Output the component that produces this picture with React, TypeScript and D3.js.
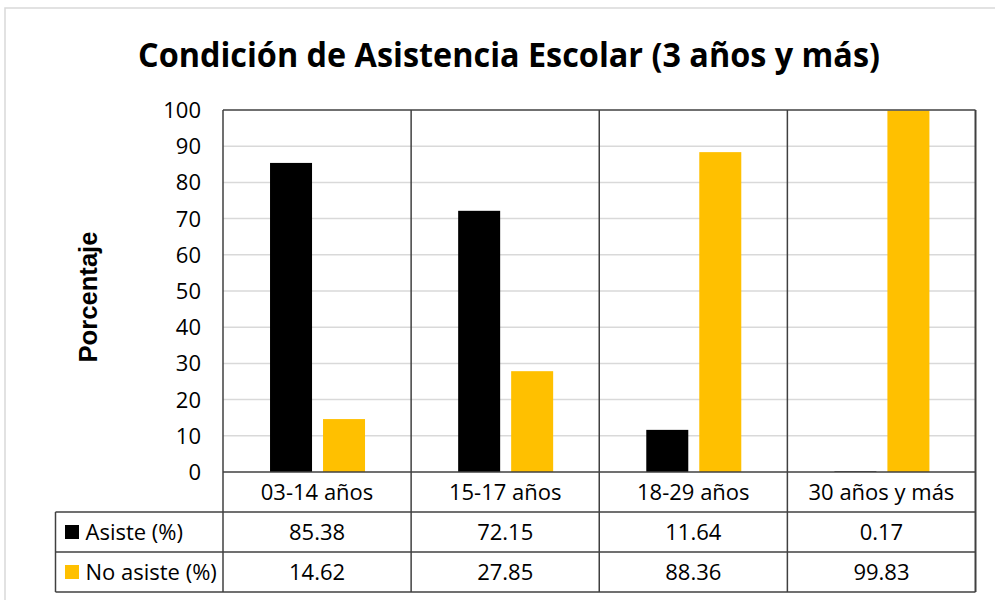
import React from "react";
import * as d3 from "d3";

const categories = ["03-14 años", "15-17 años", "18-29 años", "30 años y más"];
const seriesNames = ["Asiste (%)", "No asiste (%)"];
const asiste = [85.38, 72.15, 11.64, 0.17];
const noAsiste = [14.62, 27.85, 88.36, 99.83];
const yTicks = [0, 10, 20, 30, 40, 50, 60, 70, 80, 90, 100];
const colors = ["#000000", "#FFC000"];

const W = 995;
const H = 600;
const plotL = 223;
const plotR = 975.5;
const plotT = 110;
const plotB = 472;
const rowH = 40;
const tableL = 55.5;
const lineColor = "#404040";

export default function App() {
  const values = [asiste, noAsiste];
  const x0 = d3.scaleBand<string>().domain(categories).range([plotL, plotR]).padding(0);
  const bw = x0.bandwidth();
  const x1 = d3
    .scaleBand<string>()
    .domain(seriesNames)
    .range([bw * 0.25, bw * 0.25 + 95])
    .paddingInner(11 / 53)
    .paddingOuter(0);
  const y = d3.scaleLinear().domain([0, 100]).range([plotB, plotT]);

  const tableFont = "'Open Sans', sans-serif";
  const rowsY = [plotB, plotB + rowH, plotB + 2 * rowH, plotB + 3 * rowH];

  return (
    <svg
      width={W}
      height={H}
      style={{ position: "absolute", left: 0, top: 0, background: "#fff" }}
    >
      <rect x={5} y={8} width={1100} height={700} fill="#fff" stroke="#d9d9d9" strokeWidth={1.5} />
      <text
        x={509}
        y={67}
        textAnchor="middle"
        fontFamily="'Open Sans', sans-serif"
        fontWeight="bold"
        fontSize={34}
        textLength={742}
        lengthAdjust="spacingAndGlyphs"
        fill="#000"
      >
        Condición de Asistencia Escolar (3 años y más)
      </text>

      {/* gridlines */}
      {yTicks
        .filter((t) => t !== 0 && t !== 100)
        .map((t) => (
          <line key={t} x1={plotL} x2={plotR} y1={y(t)} y2={y(t)} stroke="#d9d9d9" strokeWidth={1.5} />
        ))}

      {/* tick labels */}
      {yTicks.map((t) => (
        <text
          key={t}
          x={201}
          y={y(t)}
          dy="0.36em"
          textAnchor="end"
          fontFamily={tableFont}
          fontSize={22}
          fill="#000"
        >
          {t}
        </text>
      ))}

      <text
        transform={`translate(97,${297}) rotate(-90)`}
        textAnchor="middle"
        fontFamily="'Liberation Sans', Arial, sans-serif"
        fontWeight="bold"
        fontSize={25}
        textLength={131}
        lengthAdjust="spacingAndGlyphs"
        fill="#000"
      >
        Porcentaje
      </text>

      {/* bars */}
      {categories.map((c, i) => (
        <g key={c} transform={`translate(${x0(c)},0)`}>
          {seriesNames.map((s, j) => (
            <rect
              key={s}
              x={x1(s)}
              y={y(values[j][i])}
              width={x1.bandwidth()}
              height={plotB - y(values[j][i])}
              fill={colors[j]}
            />
          ))}
        </g>
      ))}

      {/* plot and table lines */}
      <line x1={plotL} x2={plotR} y1={plotT} y2={plotT} stroke={lineColor} strokeWidth={1.5} />
      {rowsY.map((ry, k) => (
        <line
          key={ry}
          x1={k === 0 ? plotL : tableL}
          x2={plotR}
          y1={ry}
          y2={ry}
          stroke={lineColor}
          strokeWidth={1.5}
        />
      ))}
      <line x1={tableL} x2={tableL} y1={plotB + rowH} y2={plotB + 3 * rowH} stroke={lineColor} strokeWidth={1.5} />
      {categories.map((c) => (
        <line key={c} x1={x0(c)} x2={x0(c)} y1={plotT} y2={plotB + 3 * rowH} stroke={lineColor} strokeWidth={1.5} />
      ))}
      <line x1={plotR} x2={plotR} y1={plotT} y2={plotB + 3 * rowH} stroke={lineColor} strokeWidth={2} />

      {/* category labels */}
      {categories.map((c) => (
        <text
          key={c}
          x={(x0(c) as number) + bw / 2}
          y={plotB + rowH / 2}
          dy="0.36em"
          textAnchor="middle"
          fontFamily={tableFont}
          fontSize={22}
          fill="#000"
        >
          {c}
        </text>
      ))}

      {/* table rows */}
      {seriesNames.map((s, j) => {
        const cy = plotB + rowH * (j + 1) + rowH / 2;
        return (
          <g key={s}>
            <rect x={65} y={cy - 7} width={14} height={14} fill={colors[j]} />
            <text x={85.5} y={cy} dy="0.36em" fontFamily={tableFont} fontSize={22} fill="#000">
              {s}
            </text>
            {categories.map((c, i) => (
              <text
                key={c}
                x={(x0(c) as number) + bw / 2}
                y={cy}
                dy="0.36em"
                textAnchor="middle"
                fontFamily={tableFont}
                fontSize={22}
                fill="#000"
              >
                {values[j][i].toFixed(2)}
              </text>
            ))}
          </g>
        );
      })}
    </svg>
  );
}
